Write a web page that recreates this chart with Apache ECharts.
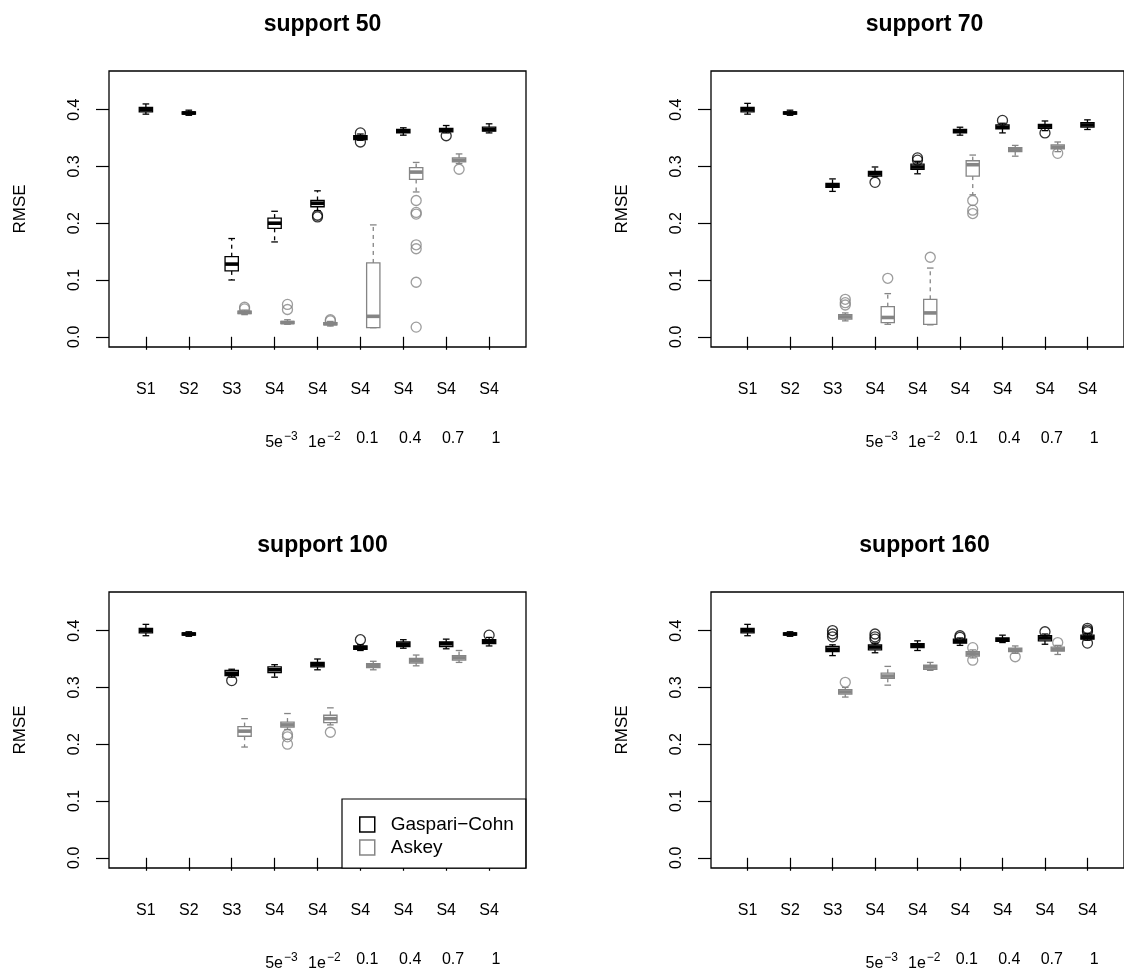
<!DOCTYPE html>
<html>
<head>
<meta charset="utf-8">
<script src="https://cdn.jsdelivr.net/npm/echarts@6/dist/echarts.min.js"></script>
<style>
  html, body { margin: 0; padding: 0; background: #fff; }
  #chart { width: 1124px; height: 974px; }
</style>
</head>
<body>
<div id="chart"></div>
<script>
const categories = ['S1', 'S2', 'S3', 'S4', 'S4', 'S4', 'S4', 'S4', 'S4'];
const bandBase = ['5e', '1e', '0.1', '0.4', '0.7', '1'];
const bandExp = ['\u22123', '\u22122', '', '', '', ''];
const titles = ['support 50', 'support 70', 'support 100', 'support 160'];
const yTicks = [0, 0.1, 0.2, 0.3, 0.4];

// box stats: [lower whisker, q1, median, q3, upper whisker]
// Gaspari-Cohn: one per category; Askey: categories 3..8
const gc50 = [
  [0.392, 0.396, 0.400, 0.404, 0.410], [0.390, 0.392, 0.394, 0.396, 0.399],
  [0.100, 0.116, 0.128, 0.141, 0.173], [0.167, 0.191, 0.200, 0.209, 0.221],
  [0.222, 0.229, 0.235, 0.240, 0.257], [0.346, 0.347, 0.351, 0.354, 0.357],
  [0.355, 0.359, 0.362, 0.365, 0.368], [0.359, 0.361, 0.364, 0.367, 0.372],
  [0.359, 0.362, 0.365, 0.369, 0.375]
];
const askey50 = [
  [0.039, 0.041, 0.043, 0.045, 0.047], [0.022, 0.023, 0.025, 0.027, 0.030],
  [0.019, 0.021, 0.023, 0.025, 0.027], [0.016, 0.016, 0.036, 0.130, 0.197],
  [0.255, 0.277, 0.290, 0.298, 0.307], [0.305, 0.308, 0.311, 0.315, 0.322]
];
const gc50Out = [[5, 0.211], [5, 0.214], [6, 0.343], [6, 0.359], [8, 0.354]];
const askey50Out = [[3, 0.052], [3, 0.049], [4, 0.057], [4, 0.048], [5, 0.028], [5, 0.030],
  [7, 0.240], [7, 0.219], [7, 0.216], [7, 0.162], [7, 0.155], [7, 0.096], [7, 0.017], [8, 0.295]];

const gc70 = [
  [0.392, 0.396, 0.400, 0.404, 0.411], [0.390, 0.392, 0.394, 0.396, 0.399],
  [0.256, 0.263, 0.266, 0.270, 0.278], [0.282, 0.283, 0.287, 0.291, 0.299],
  [0.287, 0.295, 0.299, 0.304, 0.309], [0.355, 0.359, 0.362, 0.365, 0.369],
  [0.359, 0.366, 0.369, 0.373, 0.376], [0.363, 0.367, 0.371, 0.374, 0.380],
  [0.365, 0.369, 0.373, 0.377, 0.382]
];
const askey70 = [
  [0.028, 0.031, 0.035, 0.039, 0.042], [0.022, 0.025, 0.034, 0.053, 0.076],
  [0.021, 0.022, 0.042, 0.066, 0.121], [0.250, 0.283, 0.303, 0.310, 0.320],
  [0.318, 0.326, 0.330, 0.333, 0.337], [0.326, 0.331, 0.334, 0.338, 0.343]
];
const gc70Out = [[4, 0.272], [5, 0.315], [5, 0.311], [7, 0.381], [8, 0.359]];
const askey70Out = [[3, 0.066], [3, 0.060], [3, 0.056], [4, 0.103], [5, 0.140],
  [6, 0.240], [6, 0.223], [6, 0.217], [8, 0.323]];

const gc100 = [
  [0.391, 0.396, 0.400, 0.404, 0.411], [0.390, 0.392, 0.394, 0.396, 0.398],
  [0.318, 0.321, 0.325, 0.330, 0.332], [0.318, 0.326, 0.331, 0.336, 0.340],
  [0.331, 0.336, 0.340, 0.344, 0.350], [0.365, 0.367, 0.370, 0.373, 0.375],
  [0.369, 0.372, 0.376, 0.380, 0.384], [0.368, 0.372, 0.377, 0.380, 0.385],
  [0.373, 0.377, 0.381, 0.384, 0.388]
];
const askey100 = [
  [0.195, 0.214, 0.223, 0.231, 0.245], [0.226, 0.230, 0.234, 0.239, 0.254],
  [0.234, 0.238, 0.245, 0.251, 0.264], [0.331, 0.335, 0.339, 0.342, 0.346],
  [0.338, 0.343, 0.347, 0.351, 0.357], [0.344, 0.348, 0.352, 0.356, 0.365]
];
const gc100Out = [[3, 0.312], [6, 0.384], [9, 0.392]];
const askey100Out = [[4, 0.217], [4, 0.213], [4, 0.200], [5, 0.221]];

const gc160 = [
  [0.391, 0.396, 0.400, 0.404, 0.411], [0.390, 0.392, 0.394, 0.396, 0.398],
  [0.356, 0.363, 0.367, 0.372, 0.375], [0.361, 0.366, 0.371, 0.375, 0.378],
  [0.365, 0.370, 0.374, 0.377, 0.382], [0.374, 0.378, 0.381, 0.385, 0.387],
  [0.379, 0.381, 0.384, 0.387, 0.392], [0.376, 0.382, 0.387, 0.391, 0.394],
  [0.383, 0.385, 0.388, 0.392, 0.395]
];
const askey160 = [
  [0.283, 0.288, 0.292, 0.296, 0.300], [0.304, 0.316, 0.320, 0.325, 0.337],
  [0.330, 0.332, 0.336, 0.339, 0.344], [0.352, 0.355, 0.359, 0.363, 0.366],
  [0.360, 0.363, 0.366, 0.369, 0.373], [0.358, 0.364, 0.367, 0.371, 0.374]
];
const gc160Out = [[3, 0.400], [3, 0.394], [3, 0.389], [4, 0.394], [4, 0.389], [4, 0.385],
  [6, 0.391], [6, 0.388], [8, 0.398], [9, 0.404], [9, 0.401], [9, 0.398], [9, 0.378]];
const askey160Out = [[3, 0.309], [6, 0.370], [6, 0.348], [7, 0.354], [8, 0.379]];

const gcBoxes = [gc50, gc70, gc100, gc160];
const askeyBoxes = [askey50, askey70, askey100, askey160];
const gcOutliers = [gc50Out, gc70Out, gc100Out, gc160Out];
const askeyOutliers = [askey50Out, askey70Out, askey100Out, askey160Out];

const FONT = '"Liberation Sans", Arial, Helvetica, sans-serif';
const BLACK = '#000';
const GREY = '#858585';
const GC_NAME = 'Gaspari\u2212Cohn';
const ASKEY_NAME = 'Askey';
const ASKEY_SHIFT = 0.3;   // grey box sits right of its tick
const ASKEY_FIRST = 3;     // first category with an Askey box
const panels = [
  { left: 109, top: 71 }, { left: 711, top: 71 },
  { left: 109, top: 592 }, { left: 711, top: 592 }
];
const PW = 417, PH = 276;

function boxRenderer(color) {
  return function (params, api) {
    const x = api.value(0);
    const lo = api.coord([x, api.value(1)]);
    const q1 = api.coord([x, api.value(2)]);
    const md = api.coord([x, api.value(3)]);
    const q3 = api.coord([x, api.value(4)]);
    const hi = api.coord([x, api.value(5)]);
    const half = api.size([0.155, 0])[0];
    const cx = lo[0];
    const line = (x1, y1, x2, y2, extra) => ({
      type: 'line',
      shape: { x1, y1, x2, y2 },
      style: Object.assign({ stroke: color, lineWidth: 1.3 }, extra)
    });
    return {
      type: 'group',
      children: [
        line(cx, q3[1], cx, hi[1], { lineDash: [4, 4] }),
        line(cx, q1[1], cx, lo[1], { lineDash: [4, 4] }),
        line(cx - half / 2, hi[1], cx + half / 2, hi[1]),
        line(cx - half / 2, lo[1], cx + half / 2, lo[1]),
        {
          type: 'rect',
          shape: { x: cx - half, y: q3[1], width: 2 * half, height: q1[1] - q3[1] },
          style: { fill: 'none', stroke: color, lineWidth: 1.3 }
        },
        line(cx - half, md[1], cx + half, md[1], { lineWidth: 3.6 })
      ]
    };
  };
}

const grid = [], xAxis = [], yAxis = [], series = [], title = [];
const tickLine = { color: BLACK, width: 1.2 };
const catTicks = categories.map((c, i) => i + 1);
const bandPos = bandBase.map((b, i) => i + 4 + 0.16);

panels.forEach((p, k) => {
  grid.push({ left: p.left, top: p.top, width: PW, height: PH, show: true,
    borderColor: BLACK, borderWidth: 1.3, backgroundColor: 'transparent' });

  title.push({ text: titles[k], left: p.left + PW / 2, top: k < 2 ? 8 : 529, textAlign: 'center',
    textStyle: { fontSize: 23, fontWeight: 'bold', color: BLACK, fontFamily: FONT } });

  xAxis.push({
    type: 'value', gridIndex: k, min: 0.14, max: 9.86, position: 'bottom',
    axisLine: { show: false }, splitLine: { show: false },
    axisTick: { show: true, customValues: catTicks, length: 13, lineStyle: tickLine },
    axisLabel: { customValues: catTicks, formatter: v => categories[Math.round(v) - 1],
      margin: 35, fontSize: 16, color: BLACK, fontFamily: FONT }
  });
  xAxis.push({
    type: 'value', gridIndex: k, min: 0.14, max: 9.86, position: 'bottom',
    axisLine: { show: false }, splitLine: { show: false }, axisTick: { show: false },
    axisLabel: {
      customValues: bandPos,
      formatter: v => {
        const i = Math.round(v - 4.16);
        return bandExp[i] ? '{b|' + bandBase[i] + '}{sup|' + bandExp[i] + '}' : '{b|' + bandBase[i] + '}';
      },
      margin: 84, color: BLACK, fontFamily: FONT,
      rich: {
        b: { fontSize: 16, color: BLACK, fontFamily: FONT },
        sup: { fontSize: 12, color: BLACK, fontFamily: FONT, padding: [0, 0, 11, 1] }
      }
    }
  });

  yAxis.push({
    type: 'value', gridIndex: k, min: -0.018, max: 0.468,
    name: 'RMSE', nameLocation: 'middle', nameGap: 80, nameRotate: 90,
    nameTextStyle: { fontSize: 17, color: BLACK, fontFamily: FONT },
    axisLine: { show: false }, splitLine: { show: false },
    axisTick: { show: true, customValues: yTicks, length: 13, lineStyle: tickLine },
    axisLabel: { customValues: yTicks, rotate: 90, formatter: v => v.toFixed(1),
      margin: 26, fontSize: 16, color: BLACK, fontFamily: FONT }
  });

  series.push({
    type: 'custom', name: GC_NAME, xAxisIndex: 2 * k, yAxisIndex: k, clip: false,
    renderItem: boxRenderer(BLACK), encode: { x: 0, y: [1, 2, 3, 4, 5] },
    data: gcBoxes[k].map((s, i) => [i + 1].concat(s))
  });
  series.push({
    type: 'scatter', name: GC_NAME, xAxisIndex: 2 * k, yAxisIndex: k,
    symbol: 'circle', symbolSize: 10, silent: true,
    itemStyle: { color: 'transparent', borderColor: BLACK, borderWidth: 1.3 },
    data: gcOutliers[k].map(o => [o[0], o[1]])
  });
  series.push({
    type: 'custom', name: ASKEY_NAME, xAxisIndex: 2 * k, yAxisIndex: k, clip: false,
    renderItem: boxRenderer(GREY), encode: { x: 0, y: [1, 2, 3, 4, 5] },
    data: askeyBoxes[k].map((s, i) => [i + ASKEY_FIRST + ASKEY_SHIFT].concat(s))
  });
  series.push({
    type: 'scatter', name: ASKEY_NAME, xAxisIndex: 2 * k, yAxisIndex: k,
    symbol: 'circle', symbolSize: 10, silent: true,
    itemStyle: { color: 'transparent', borderColor: GREY, borderWidth: 1.3 },
    data: askeyOutliers[k].map(o => [o[0] + ASKEY_SHIFT, o[1]])
  });
});

const chart = echarts.init(document.getElementById('chart'), null, { renderer: 'canvas' });
chart.setOption({
  animation: false,
  backgroundColor: '#fff',
  textStyle: { fontFamily: FONT },
  title,
  grid,
  xAxis,
  yAxis,
  legend: {
    left: 342, top: 799, orient: 'vertical', selectedMode: false,
    itemWidth: 15, itemHeight: 15, itemGap: 4,
    padding: [16, 12, 11, 17],
    borderColor: BLACK, borderWidth: 1.2, backgroundColor: '#fff',
    textStyle: { fontSize: 19, color: BLACK, fontFamily: FONT, padding: [0, 0, 0, 11] },
    data: [
      { name: GC_NAME, icon: 'rect', itemStyle: { color: '#fff', borderColor: BLACK, borderWidth: 1.5 } },
      { name: ASKEY_NAME, icon: 'rect', itemStyle: { color: '#fff', borderColor: GREY, borderWidth: 1.5 } }
    ]
  },
  series
});
</script>
</body>
</html>
